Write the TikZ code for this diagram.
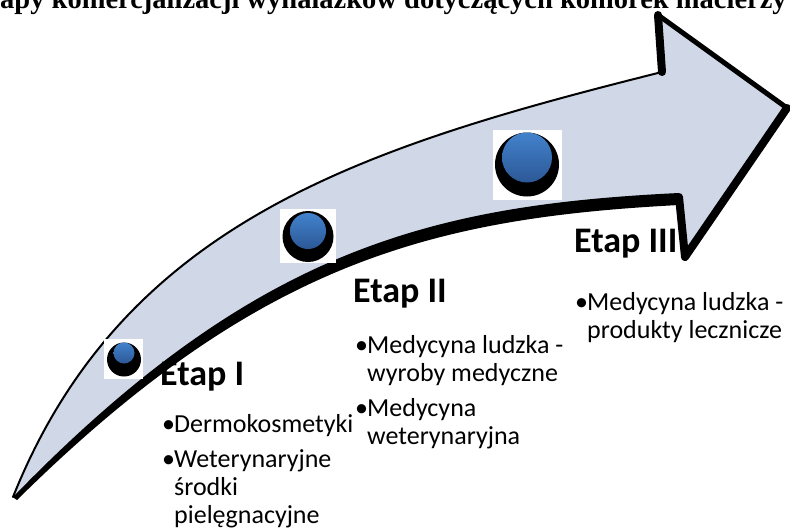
\documentclass[tikz,border=0pt]{standalone}
\usepackage{fontspec}
\setmainfont{Carlito}
\newfontfamily\titlefont{Liberation Serif}
\definecolor{arrowfill}{RGB}{208,216,232}
\definecolor{balltop}{RGB}{66,130,204}
\definecolor{ballbot}{RGB}{44,88,150}
\newcommand\bul[1]{\par\hangindent=12pt\hangafter=1\noindent\makebox[12pt][l]{\textbullet}#1}
\newcommand\blist[1]{\parbox[t]{260pt}{\raggedright\fontsize{26}{28}\selectfont\setlength\parskip{7pt}#1}}
\tikzset{
  stage/.style={anchor=base west, inner sep=0pt, font=\fontsize{36}{40}\selectfont\bfseries},
  items/.style={anchor=base west, inner sep=0pt},
  whitesq/.style={fill=white, draw=none},
  thinedge/.style={draw=black, line width=2pt, line cap=round},
  thickedge/.style={draw=black, line width=8pt, line join=round, line cap=round},
}
\begin{document}
\begin{tikzpicture}[x=1pt,y=-1pt]
\useasboundingbox (0,0) rectangle (790,528);
\clip (0,0) rectangle (790,528);
\fill[white] (0,0) rectangle (790,528);
% title (cut at top)
\node[anchor=base west, inner sep=0pt, font=\titlefont\bfseries\fontsize{28.5}{32}\selectfont] (title) at (0,8) {apy komercjalizacji wynalazków dotyczących komórek macierzy};
% arrow body
\fill[arrowfill] (13,497) .. controls (123,222) and (362,147) .. (662,72)
  -- (658,15) -- (787,108) -- (685,257) -- (679,199)
  .. controls (429,211.5) and (255,255) .. (15,495) -- cycle;
\draw[thinedge] (13,497) .. controls (123,222) and (362,147) .. (662,72);
% bottom band
\fill[black] (13,497) .. controls (253,250) and (429,205) .. (679,193)
  -- (679,205) .. controls (432,218) and (258,262) .. (17,500) -- cycle;
\draw[black, line width=3pt, line cap=round] (14,496) -- (17,498);
% head outline
\draw[thickedge] (662,72) -- (658,15);
\draw[black, line width=5pt, line join=round, line cap=round] (658,15) -- (787,108);
\draw[thickedge] (787,108) -- (685,257) -- (679,197);
% balls
\fill[whitesq] (104,339) rectangle (143,379);
\fill[black] (124,359.5) circle[radius=17];
\shade[top color=balltop, bottom color=ballbot] (124,353) circle[radius=10.5];
\fill[whitesq] (280,209) rectangle (336,263);
\fill[black] (308,236.5) circle[radius=25.5];
\shade[top color=balltop, bottom color=ballbot] (308,231) circle[radius=18];
\fill[whitesq] (493,130) rectangle (562,200);
\fill[black] (527,164.5) circle[radius=32];
\shade[top color=balltop, bottom color=ballbot] (527,157.5) circle[radius=25];
% texts
\node[stage] (e1) at (160,385) {Etap I};
\node[items] (l1) at (162,432) {\blist{\bul{Dermokosmetyki}\bul{Weterynaryjne\newline środki\newline pielęgnacyjne}}};
\node[stage] (e2) at (353,302) {Etap II};
\node[items] (l2) at (355,353) {\blist{\bul{Medycyna ludzka -\newline wyroby medyczne}\bul{Medycyna\newline weterynaryjna}}};
\node[stage] (e3) at (574,252) {Etap III};
\node[items] (l3) at (575,310) {\blist{\bul{Medycyna ludzka -\newline produkty lecznicze}}};
\end{tikzpicture}
\end{document}
